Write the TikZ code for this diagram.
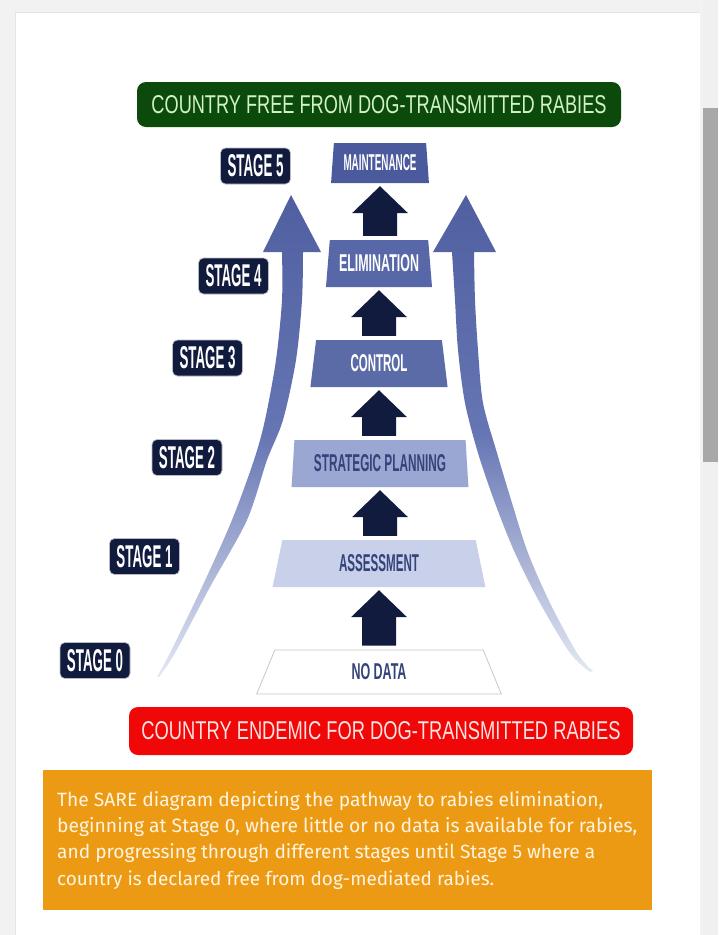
\documentclass[tikz,border=0pt]{standalone}
\usepackage{fontspec}
\setmainfont{Liberation Sans}
\newfontfamily\notefont{Fira Sans}
\usetikzlibrary{shapes.geometric,calc,positioning}

% colours
\definecolor{navy}{HTML}{111B3D}
\definecolor{freegreen}{HTML}{0B4A0B}
\definecolor{freetext}{HTML}{D2F2C6}
\definecolor{endred}{HTML}{F00808}
\definecolor{endtext}{HTML}{FFE2E2}
\definecolor{noteorange}{HTML}{EC9A14}
\definecolor{notetext}{HTML}{FFF4E0}
\definecolor{lvlink}{HTML}{34437A}
\definecolor{lvlA}{HTML}{C9D1EA}
\definecolor{lvlB}{HTML}{9AA7D3}
\definecolor{lvlC}{HTML}{5A6BA8}
\definecolor{lvlD}{HTML}{5767A8}
\definecolor{lvlE}{HTML}{4B5A9D}
\definecolor{curveblue}{HTML}{4F5FA0}
\definecolor{curvemid}{HTML}{6676B4}
\definecolor{curvelow}{HTML}{E4E8F3}

% squeeze a text into w x h (pt)
\newcommand{\fitbox}[3]{\resizebox{#1pt}{#2pt}{#3}}

% navy arrow from one level up to the next
\newcommand{\stepup}[2]{%
  \fill[navy] let \p1=(#1.south), \p2=(#2.north) in
    (\x1,\y1-3pt) -- (\x1+28pt,\y1-30pt) -- (\x1+17pt,\y1-30pt) -- (\x1+17pt,\y2+4pt)
    -- (\x1-17pt,\y2+4pt) -- (\x1-17pt,\y1-30pt) -- (\x1-28pt,\y1-30pt) -- cycle;}

\tikzset{
  level/.style={trapezium, trapezium stretches=true, inner sep=0pt},
  stagebox/.style={rounded corners=5pt, fill=navy, draw=white!70!navy, line width=0.7pt,
                   minimum width=70pt, minimum height=36pt, inner sep=0pt, text=white},
  banner/.style={rounded corners=9pt, inner sep=0pt},
  noteline/.style={anchor=base west, inner sep=0pt, text=notetext},
  sidearrow/.style={top color=curveblue, bottom color=curvelow, middle color=curvemid}
}

\begin{document}
\begin{tikzpicture}[x=1pt,y=-1pt]
  \useasboundingbox (0,0) rectangle (718,935);

  % page and card
  \fill[black!5] (0,0) rectangle (718,935);
  \fill[white] (15,12) rectangle (700,935);
  \draw[black!10] (15,935) -- (15,12) -- (700,12);
  \fill[black!6] (703,0) rectangle (718,935);
  \fill[black!34] (703,108) rectangle (718,462);

  % banners
  \node[banner, fill=freegreen, minimum width=484pt, minimum height=45pt] (free) at (379,104.5)
     {\fitbox{455}{18}{\color{freetext}COUNTRY FREE FROM DOG-TRANSMITTED RABIES}};
  \node[banner, fill=endred, minimum width=504pt, minimum height=48pt] (endemic) at (381,731)
     {\fitbox{479}{18}{\color{endtext}COUNTRY ENDEMIC FOR DOG-TRANSMITTED RABIES}};

  % curved side arrows
  \shade[sidearrow]
    (282,252) -- (263,252) -- (291,195) -- (321,252) -- (303,252)
    -- plot[smooth] coordinates {(303,252) (302,300) (296,360) (283,420) (267,460) (247,520) (210,587) (175,653) (159,677)}
    -- plot[smooth] coordinates {(157,677) (170,653) (202,587) (232,520) (254,460) (265,420) (276,360) (282,300) (282,252)}
    -- cycle;
  \shade[sidearrow]
    (452,252) -- (433,252) -- (466,195) -- (496,252) -- (474,252)
    -- plot[smooth] coordinates {(474,252) (475,300) (478,350) (483,403) (497,453) (512,503) (528,553) (550,603) (577,653) (593,671)}
    -- plot[smooth] coordinates {(590,672) (570,653) (540,603) (515,553) (495,503) (478,453) (465,403) (458,350) (455,300) (452,252)}
    -- cycle;

  % levels
  \node[level, fill=white, draw=black!22, line width=0.8pt, trapezium angle=73.5,
        minimum width=246pt, minimum height=44pt] (nodata) at (379,672)
        {\fitbox{55}{16}{\bfseries\color{lvlink}NO DATA}};
  \node[level, fill=lvlA, trapezium angle=76.8, minimum width=214pt, minimum height=47pt] (assess) at (379,563.5)
        {\fitbox{80}{17}{\bfseries\color{lvlink}ASSESSMENT}};
  \node[level, fill=lvlB, trapezium angle=82.7, minimum width=177pt, minimum height=47pt] (plan) at (380,463.5)
        {\fitbox{132}{17}{\bfseries\color{lvlink}STRATEGIC PLANNING}};
  \node[level, fill=lvlC, trapezium angle=81.5, minimum width=138pt, minimum height=47pt] (control) at (379,363.5)
        {\fitbox{57}{17}{\bfseries\color{white}CONTROL}};
  \node[level, fill=lvlD, trapezium angle=79.7, minimum width=107pt, minimum height=47pt] (elim) at (379,263.5)
        {\fitbox{80}{17}{\bfseries\color{white}ELIMINATION}};
  \node[level, fill=lvlE, trapezium angle=82.2, minimum width=98pt, minimum height=40pt] (maint) at (380,163)
        {\fitbox{73}{16}{\bfseries\color{white}MAINTENANCE}};

  % arrows between levels
  \foreach \a/\b in {maint/elim, elim/control, control/plan, plan/assess, assess/nodata}
    \stepup{\a}{\b};

  % stage labels
  \foreach \n/\x/\y in {0/95/660.5, 1/144.5/556.5, 2/187/457.5, 3/207.5/358, 4/233.5/276, 5/255.5/166}
    \node[stagebox] (stage\n) at (\x,\y) {\fitbox{56}{22}{\bfseries STAGE \n}};

  % caption
  \fill[noteorange] (43,770) rectangle (652,910);
  \node[noteline] (note1) at (57,806) {\resizebox{546pt}{!}{\notefont The SARE diagram depicting the pathway to rabies elimination,}};
  \node[noteline] (note2) at (57,832) {\resizebox{580pt}{!}{\notefont beginning at Stage 0, where little or no data is available for rabies,}};
  \node[noteline] (note3) at (57,858) {\resizebox{538pt}{!}{\notefont and progressing through different stages until Stage 5 where a}};
  \node[noteline] (note4) at (57,885) {\resizebox{437pt}{!}{\notefont country is declared free from dog-mediated rabies.}};
\end{tikzpicture}
\end{document}
